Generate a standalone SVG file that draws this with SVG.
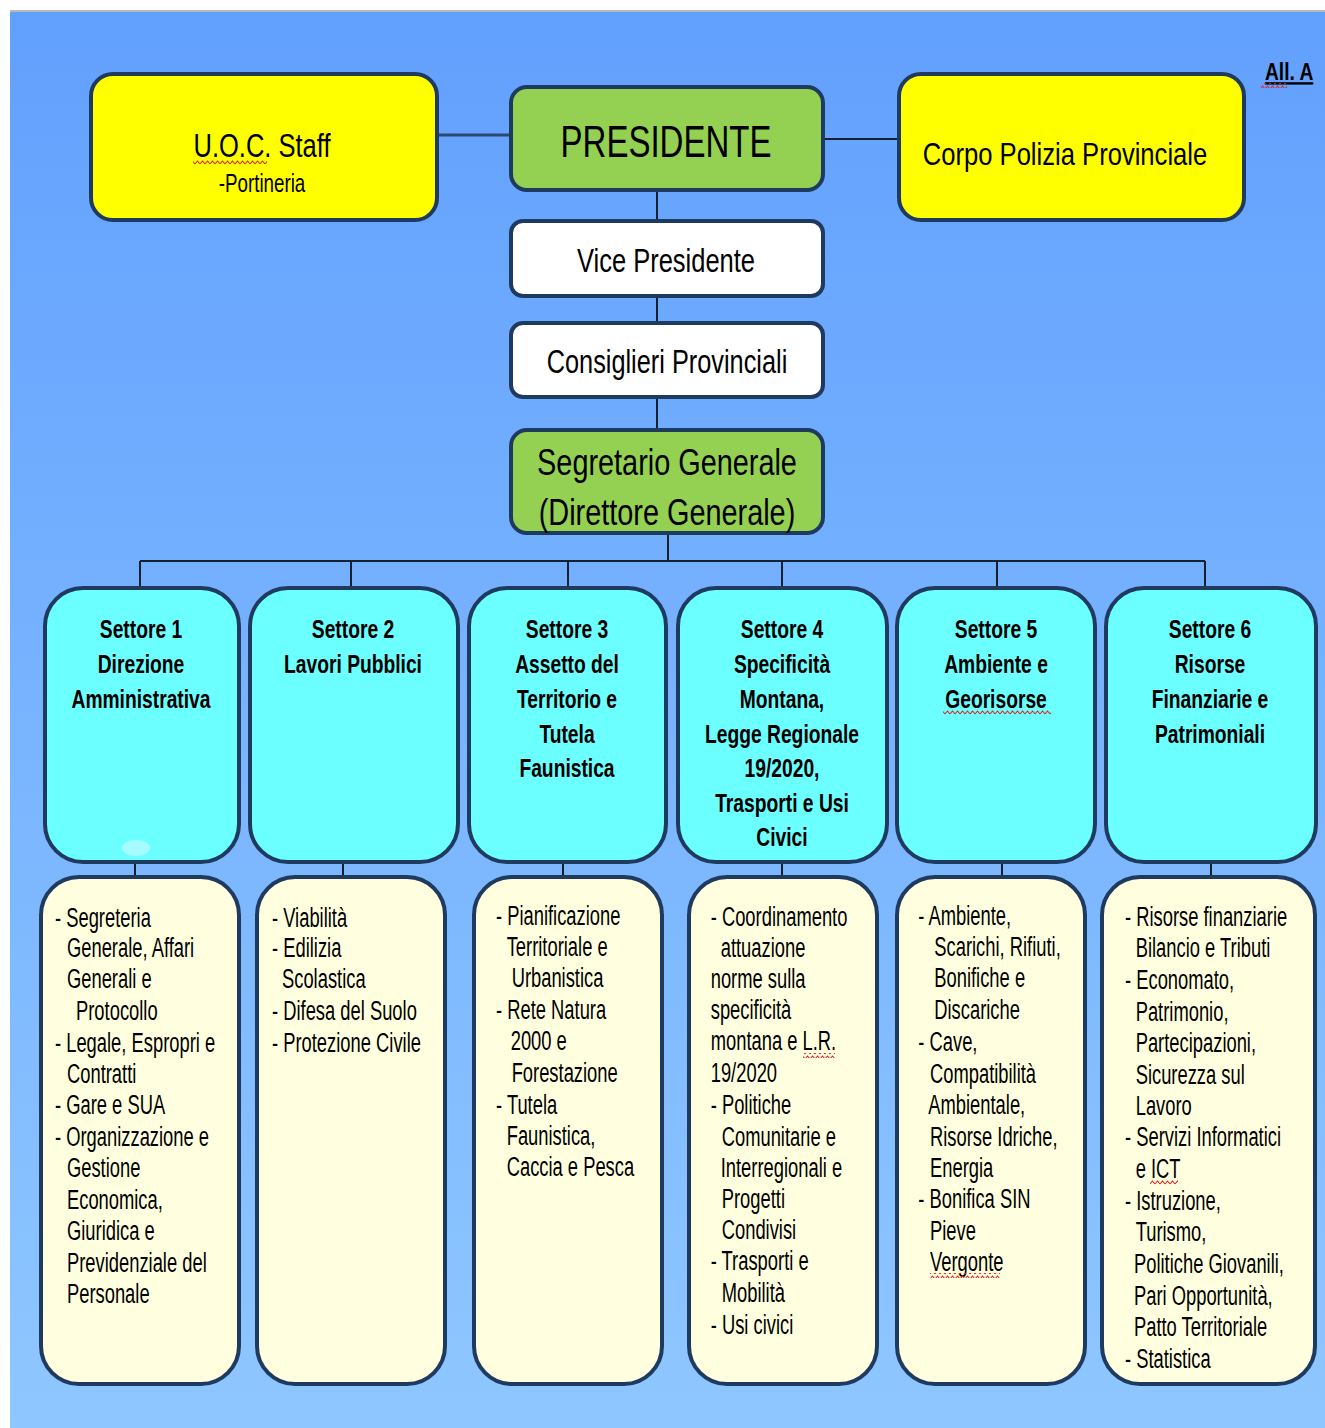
<svg xmlns="http://www.w3.org/2000/svg" width="1325" height="1428" viewBox="0 0 1325 1428">
<defs>
<linearGradient id="bg" x1="0" y1="0" x2="0" y2="1">
<stop offset="0" stop-color="#62a0fe"/>
<stop offset="1" stop-color="#8ec7ff"/>
</linearGradient>
<pattern id="wave" patternUnits="userSpaceOnUse" width="5" height="5">
<path d="M0,4 L2.5,1 L5,4" fill="none" stroke="#e02020" stroke-width="1.1"/>
</pattern>
<style>
.t{font-family:"Liberation Sans",Arial,sans-serif;fill:#000}
.b{font-size:27px}
.h{font-size:25px;font-weight:bold;text-anchor:middle}
.c{text-anchor:middle}
.box{stroke:#1f3a5f;stroke-width:4}
.yel{fill:#ffff00}
.grn{fill:#94d153}
.wht{fill:#ffffff}
.cya{fill:#6cffff}
.crm{fill:#ffffdf}
.ln{fill:none;stroke:#15202e;stroke-width:2}
</style>
</defs>
<rect x="0" y="0" width="1325" height="1428" fill="#ffffff"/>
<rect x="10" y="10" width="1315" height="1418" fill="url(#bg)"/>
<rect x="10" y="10" width="1315" height="2" fill="#b8b8b8"/>

<g id="connectors">
<path class="ln" d="M437,135 H511" style="stroke:#2b4a6e;stroke-width:3"/>
<path class="ln" d="M823,139 H899"/>
<path class="ln" d="M657,190 V221 M657,296 V323 M657,397 V430"/>
<path class="ln" d="M668,533 V561 M140,561 H1205"/>
<path class="ln" d="M140,561 V588 M351,561 V588 M568,561 V588 M782,561 V588 M997,561 V588 M1205,561 V588"/>
<path class="ln" d="M135,862 V877 M343,862 V877 M563,862 V877 M782,862 V877 M1002,862 V877 M1211,862 V877"/>
</g>

<text class="t" x="1265" y="80" font-size="24" font-weight="bold" text-decoration="underline" transform="translate(1265,0) scale(0.8,1) translate(-1265,0)">All. A</text>
<rect x="1261" y="83" width="26" height="5" fill="url(#wave)"/>

<g id="uoc">
<rect class="box yel" x="91" y="74" width="346" height="146" rx="22"/>
<g transform="translate(262,0) scale(0.75,1)">
<text class="t c" x="0" y="157" font-size="34">U.O.C. Staff</text>
<text class="t c" x="0" y="192" font-size="25">-Portineria</text>
</g>
<rect x="193" y="160" width="74" height="5" fill="url(#wave)"/>
</g>

<g id="presidente">
<rect class="box grn" x="511" y="87" width="312" height="103" rx="16"/>
<g transform="translate(666,0) scale(0.75,1)"><text class="t c" x="0" y="157" font-size="44">PRESIDENTE</text></g>
</g>

<g id="polizia">
<rect class="box yel" x="899" y="74" width="345" height="146" rx="22"/>
<g transform="translate(1065,0) scale(0.8,1)"><text class="t c" x="0" y="165" font-size="32">Corpo Polizia Provinciale</text></g>
</g>

<g id="vice">
<rect class="box wht" x="511" y="221" width="312" height="75" rx="12"/>
<g transform="translate(666,0) scale(0.75,1)"><text class="t c" x="0" y="272" font-size="34">Vice Presidente</text></g>
</g>

<g id="consiglieri">
<rect class="box wht" x="511" y="323" width="312" height="74" rx="12"/>
<g transform="translate(667,0) scale(0.745,1)"><text class="t c" x="0" y="373" font-size="34">Consiglieri Provinciali</text></g>
</g>

<g id="segretario">
<rect class="box grn" x="511" y="430" width="312" height="103" rx="16"/>
<g transform="translate(667,0) scale(0.78,1)">
<text class="t c" x="0" y="475" font-size="37">Segretario Generale</text>
<text class="t c" x="0" y="525" font-size="37">(Direttore Generale)</text>
</g>
</g>

<g id="settore1">
<rect class="box cya" x="45" y="588" width="194" height="274" rx="38"/>
<ellipse cx="136" cy="848" rx="14" ry="8" fill="#a6fbff"/>
<g transform="translate(141,0) scale(0.77,1)">
<text class="t h" x="0" y="638">Settore 1</text>
<text class="t h" x="0" y="673">Direzione</text>
<text class="t h" x="0" y="708">Amministrativa</text>
</g>
</g>

<g id="settore2">
<rect class="box cya" x="250" y="588" width="208" height="274" rx="38"/>
<g transform="translate(353,0) scale(0.77,1)">
<text class="t h" x="0" y="638">Settore 2</text>
<text class="t h" x="0" y="673">Lavori Pubblici</text>
</g>
</g>

<g id="settore3">
<rect class="box cya" x="469" y="588" width="197" height="274" rx="38"/>
<g transform="translate(567,0) scale(0.77,1)">
<text class="t h" x="0" y="638">Settore 3</text>
<text class="t h" x="0" y="673">Assetto del</text>
<text class="t h" x="0" y="708">Territorio e</text>
<text class="t h" x="0" y="743">Tutela</text>
<text class="t h" x="0" y="777">Faunistica</text>
</g>
</g>

<g id="settore4">
<rect class="box cya" x="678" y="588" width="209" height="274" rx="38"/>
<g transform="translate(782,0) scale(0.77,1)">
<text class="t h" x="0" y="638">Settore 4</text>
<text class="t h" x="0" y="673">Specificità</text>
<text class="t h" x="0" y="708">Montana,</text>
<text class="t h" x="0" y="743">Legge Regionale</text>
<text class="t h" x="0" y="777">19/2020,</text>
<text class="t h" x="0" y="812">Trasporti e Usi</text>
<text class="t h" x="0" y="846">Civici</text>
</g>
</g>

<g id="settore5">
<rect class="box cya" x="897" y="588" width="198" height="274" rx="38"/>
<g transform="translate(996,0) scale(0.77,1)">
<text class="t h" x="0" y="638">Settore 5</text>
<text class="t h" x="0" y="673">Ambiente e</text>
<text class="t h" x="0" y="708">Georisorse</text>
</g>
<rect x="943" y="710" width="108" height="5" fill="url(#wave)"/>
</g>

<g id="settore6">
<rect class="box cya" x="1106" y="588" width="210" height="274" rx="38"/>
<g transform="translate(1210,0) scale(0.77,1)">
<text class="t h" x="0" y="638">Settore 6</text>
<text class="t h" x="0" y="673">Risorse</text>
<text class="t h" x="0" y="708">Finanziarie e</text>
<text class="t h" x="0" y="743">Patrimoniali</text>
</g>
</g>

<g id="funzioni1">
<rect class="box crm" x="41" y="877" width="198" height="507" rx="38"/>
<g transform="translate(55,0) scale(0.68,1)">
<text class="t b" x="0" y="927">- Segreteria</text>
<text class="t b" x="17.6" y="957">Generale, Affari</text>
<text class="t b" x="17.6" y="988">Generali e</text>
<text class="t b" x="30.9" y="1020">Protocollo</text>
<text class="t b" x="0" y="1052">- Legale, Espropri e</text>
<text class="t b" x="17.6" y="1083">Contratti</text>
<text class="t b" x="0" y="1114">- Gare e SUA</text>
<text class="t b" x="0" y="1146">- Organizzazione e</text>
<text class="t b" x="17.6" y="1177">Gestione</text>
<text class="t b" x="17.6" y="1209">Economica,</text>
<text class="t b" x="17.6" y="1240">Giuridica e</text>
<text class="t b" x="17.6" y="1272">Previdenziale del</text>
<text class="t b" x="17.6" y="1303">Personale</text>
</g>
</g>

<g id="funzioni2">
<rect class="box crm" x="257" y="877" width="188" height="507" rx="38"/>
<g transform="translate(272,0) scale(0.68,1)">
<text class="t b" x="0" y="927">- Viabilità</text>
<text class="t b" x="0" y="957">- Edilizia</text>
<text class="t b" x="14.7" y="988">Scolastica</text>
<text class="t b" x="0" y="1020">- Difesa del Suolo</text>
<text class="t b" x="0" y="1052">- Protezione Civile</text>
</g>
</g>

<g id="funzioni3">
<rect class="box crm" x="474" y="877" width="188" height="507" rx="38"/>
<g transform="translate(496,0) scale(0.68,1)">
<text class="t b" x="0" y="925">- Pianificazione</text>
<text class="t b" x="15.7" y="956">Territoriale e</text>
<text class="t b" x="23" y="987">Urbanistica</text>
<text class="t b" x="0" y="1019">- Rete Natura</text>
<text class="t b" x="21.6" y="1050">2000 e</text>
<text class="t b" x="23" y="1082">Forestazione</text>
<text class="t b" x="0" y="1114">- Tutela</text>
<text class="t b" x="15.7" y="1145">Faunistica,</text>
<text class="t b" x="15.7" y="1176">Caccia e Pesca</text>
</g>
</g>

<g id="funzioni4">
<rect class="box crm" x="689" y="877" width="188" height="507" rx="38"/>
<g transform="translate(710.7,0) scale(0.68,1)">
<text class="t b" x="0" y="926">- Coordinamento</text>
<text class="t b" x="14.7" y="957">attuazione</text>
<text class="t b" x="0" y="988">norme sulla</text>
<text class="t b" x="0" y="1019">specificità</text>
<text class="t b" x="0" y="1050">montana e L.R.</text>
<text class="t b" x="0" y="1082">19/2020</text>
<text class="t b" x="0" y="1114">- Politiche</text>
<text class="t b" x="16.2" y="1146">Comunitarie e</text>
<text class="t b" x="14.7" y="1177">Interregionali e</text>
<text class="t b" x="16.2" y="1208">Progetti</text>
<text class="t b" x="16.2" y="1239">Condivisi</text>
<text class="t b" x="0" y="1270">- Trasporti e</text>
<text class="t b" x="16.2" y="1302">Mobilità</text>
<text class="t b" x="0" y="1334">- Usi civici</text>
</g>
<rect x="803" y="1053" width="32" height="5" fill="url(#wave)"/>
</g>

<g id="funzioni5">
<rect class="box crm" x="897" y="877" width="188" height="507" rx="38"/>
<g transform="translate(918.3,0) scale(0.68,1)">
<text class="t b" x="0" y="925">- Ambiente,</text>
<text class="t b" x="23.5" y="956">Scarichi, Rifiuti,</text>
<text class="t b" x="23.5" y="987">Bonifiche e</text>
<text class="t b" x="23.5" y="1019">Discariche</text>
<text class="t b" x="0" y="1051">- Cave,</text>
<text class="t b" x="17.2" y="1083">Compatibilità</text>
<text class="t b" x="14.7" y="1114">Ambientale,</text>
<text class="t b" x="17.2" y="1146">Risorse Idriche,</text>
<text class="t b" x="17.2" y="1177">Energia</text>
<text class="t b" x="0" y="1208">- Bonifica SIN</text>
<text class="t b" x="17.2" y="1240">Pieve</text>
<text class="t b" x="17.2" y="1271">Vergonte</text>
</g>
<rect x="930" y="1273" width="70" height="5" fill="url(#wave)"/>
</g>

<g id="funzioni6">
<rect class="box crm" x="1102" y="877" width="213" height="507" rx="38"/>
<g transform="translate(1125,0) scale(0.68,1)">
<text class="t b" x="0" y="926">- Risorse finanziarie</text>
<text class="t b" x="15.7" y="957">Bilancio e Tributi</text>
<text class="t b" x="0" y="989">- Economato,</text>
<text class="t b" x="15.7" y="1021">Patrimonio,</text>
<text class="t b" x="15.7" y="1052">Partecipazioni,</text>
<text class="t b" x="15.7" y="1084">Sicurezza sul</text>
<text class="t b" x="15.7" y="1115">Lavoro</text>
<text class="t b" x="0" y="1146">- Servizi Informatici</text>
<text class="t b" x="15.7" y="1178">e ICT</text>
<text class="t b" x="0" y="1210">- Istruzione,</text>
<text class="t b" x="15.7" y="1241">Turismo,</text>
<text class="t b" x="13.2" y="1273">Politiche Giovanili,</text>
<text class="t b" x="13.2" y="1305">Pari Opportunità,</text>
<text class="t b" x="13.2" y="1336">Patto Territoriale</text>
<text class="t b" x="0" y="1368">- Statistica</text>
</g>
<rect x="1150" y="1180" width="28" height="5" fill="url(#wave)"/>
</g>
</svg>
